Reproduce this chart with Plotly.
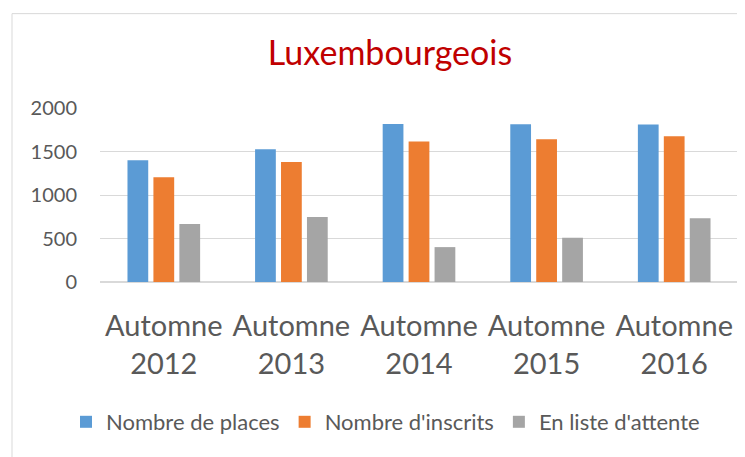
import plotly.graph_objects as go

categories = ["Automne<br>2012", "Automne<br>2013", "Automne<br>2014", "Automne<br>2015", "Automne<br>2016"]
places = [1400, 1527, 1817, 1813, 1810]
inscrits = [1203, 1378, 1615, 1641, 1676]
attente = [668, 748, 401, 508, 733]

series = [
    ("Nombre de places", places, "#5B9BD5"),
    ("Nombre d'inscrits", inscrits, "#ED7D31"),
    ("En liste d'attente", attente, "#A5A5A5"),
]

FONT = "Lato, Calibri, sans-serif"
TEXT = "#595959"
W, H = 745, 457
# the page adds an 8px body margin, so layout positions are shifted by -8
OFF = 8
plot_l, plot_r, plot_t, plot_b = 100 - OFF, 738 - OFF, 107.7 - OFF, 282.3 - OFF
pw, ph = plot_r - plot_l, plot_b - plot_t

fig = go.Figure()
for name, vals, col in series:
    fig.add_trace(go.Bar(x=categories, y=vals, name=name, marker_color=col,
                         marker_line_width=0))

fig.update_layout(
    width=W, height=H,
    paper_bgcolor="white", plot_bgcolor="white",
    margin=dict(l=plot_l, r=W - plot_r, t=plot_t, b=H - plot_b, autoexpand=False),
    barmode="group", bargap=0.39, bargroupgap=0.2,
    font=dict(family=FONT, color=TEXT),
    title=dict(text="Luxembourgeois", x=(390 - OFF) / W, xanchor="center",
               y=1 - (53 - OFF) / H, yanchor="middle", yref="container",
               font=dict(size=34, color="#C00000", family=FONT)),
    legend=dict(orientation="h", xref="container", yref="container",
                x=(66 - OFF) / W, xanchor="left", y=1 - (422 - OFF) / H, yanchor="middle",
                font=dict(size=22, color=TEXT), itemwidth=30, traceorder="normal",
                tracegroupgap=0, borderwidth=0),
    showlegend=True,
)
fig.update_yaxes(range=[0, 2000], dtick=500, showgrid=True, gridcolor="#D9D9D9",
                 gridwidth=1, zeroline=True, zerolinecolor="#D9D9D9", showline=False,
                 tickfont=dict(size=20, color=TEXT), ticklabelstandoff=22,
                 automargin=False)
fig.update_xaxes(showline=False, tickfont=dict(size=29, color=TEXT),
                 ticklabelstandoff=24, automargin=False)

fig.add_shape(type="rect", xref="paper", yref="paper",
              x0=(12 - OFF - plot_l) / pw, x1=(770 - plot_l) / pw,
              y0=(plot_b - 480) / ph, y1=(plot_b - (13 - OFF)) / ph,
              line=dict(color="#D9D9D9", width=1), layer="below")

fig.write_html("out.html")
